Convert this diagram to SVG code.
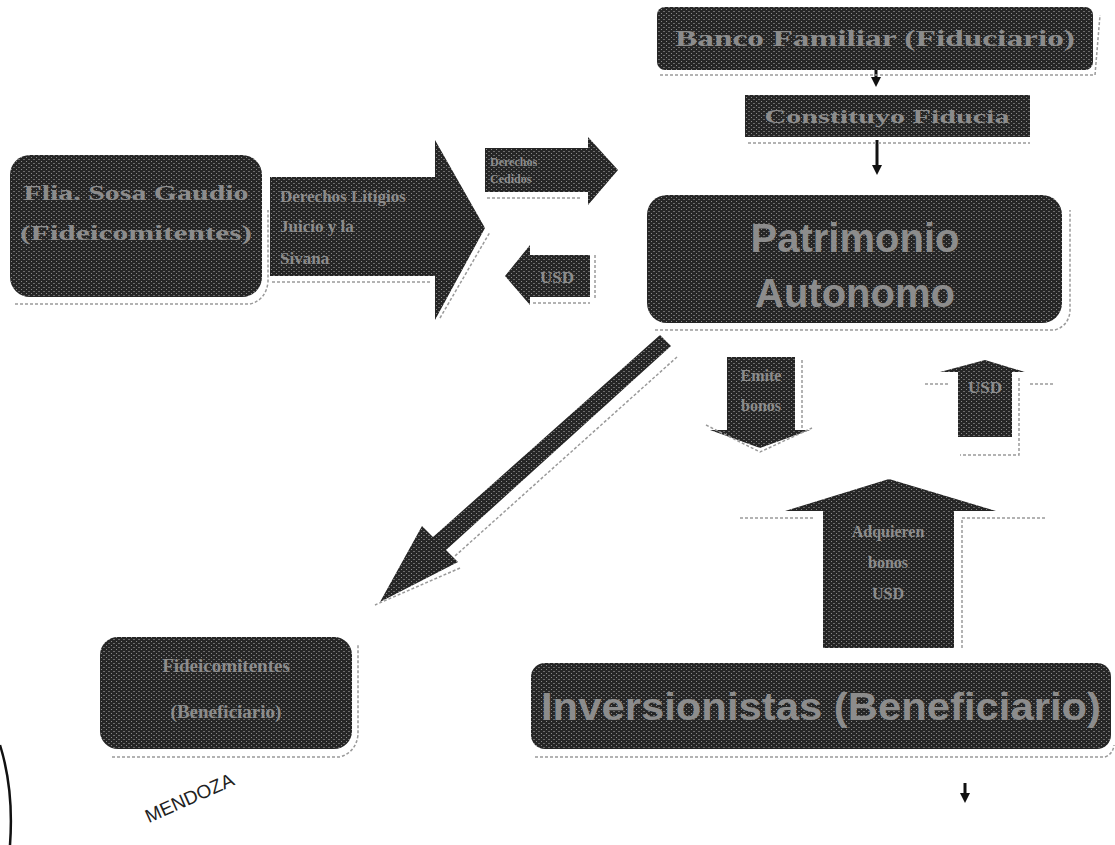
<svg xmlns="http://www.w3.org/2000/svg" width="1115" height="845" viewBox="0 0 1115 845">
<defs>
<pattern id="tex" width="5" height="4" patternUnits="userSpaceOnUse">
<rect width="5" height="4" fill="#262626"/>
<rect x="1" y="1" width="1" height="1" fill="#8a8a8a"/>
<rect x="3" y="3" width="2" height="1" fill="#6a6a6a"/>
</pattern>
<marker id="ah" markerWidth="10" markerHeight="10" refX="5" refY="5" orient="auto" markerUnits="userSpaceOnUse">
<path d="M0,0 L10,5 L0,10 Z" fill="#111"/>
</marker>
</defs>
<style>
.n{fill:url(#tex);}
.sh{fill:none;stroke:#9a9a9a;stroke-width:1.5;stroke-dasharray:3 2;}
.ts{font-family:"Liberation Serif",serif;font-weight:bold;fill:#8c8c8c;}
.tn{font-family:"Liberation Sans",Arial,sans-serif;font-weight:bold;fill:#8c8c8c;}
.ln{stroke:#111;stroke-width:3;fill:none;}
</style>
<rect width="1115" height="845" fill="#ffffff"/>

<g id="connectors">
<line class="ln" x1="876" y1="70" x2="876" y2="82" marker-end="url(#ah)"/>
<line class="ln" x1="877" y1="140" x2="877" y2="170" marker-end="url(#ah)"/>
<line class="ln" x1="965" y1="783" x2="965" y2="798" marker-end="url(#ah)"/>
<g id="arrow-derechos">
<path class="n" d="M270,177 L435,177 L435,140 L485,228 L435,320 L435,276 L270,276 Z"/>
<path class="sh" d="M272,282 L432,282 M440,318 L490,232"/>
<text class="ts" font-size="17" x="280" y="202">Derechos Litigios</text>
<text class="ts" font-size="17" x="280" y="232">Juicio y la</text>
<text class="ts" font-size="17" x="280" y="264">Sivana</text>
</g>
<g id="arrow-cedidos">
<path class="n" d="M485,148 L588,148 L588,137 L618,170 L588,205 L588,192 L485,192 Z"/>
<path class="sh" d="M487,198 L582,198"/>
<text class="ts" font-size="12" x="490" y="166">Derechos</text>
<text class="ts" font-size="12" x="490" y="183">Cedidos</text>
</g>
<g id="arrow-usd-left">
<path class="n" d="M590,255 L530,255 L530,245 L505,276 L530,305 L530,297 L590,297 Z"/>
<path class="sh" d="M533,303 L590,303 M595,255 L595,300"/>
<text class="ts" font-size="17" x="540" y="283">USD</text>
</g>
<g id="arrow-diagonal">
<path class="n" d="M671,346 L660,335 L433,537 L422,526 L380,602 L458,562 L446,550 Z"/>
<path class="sh" d="M677,357 L455,556 M460,568 L375,605"/>
</g>
<g id="arrow-emite">
<path class="n" d="M727,357 L795,357 L795,430 L810,430 L760,448 L710,430 L727,430 Z"/>
<path class="sh" d="M802,360 L802,428 M706,425 L760,452 L812,428"/>
<text class="ts" font-size="16" x="761" y="381" text-anchor="middle">Emite</text>
<text class="ts" font-size="16" x="761" y="411" text-anchor="middle">bonos</text>
</g>
<g id="arrow-usd-up">
<path class="n" d="M958,437 L1012,437 L1012,372 L1025,372 L985,360 L940,372 L958,372 Z"/>
<path class="sh" d="M1019,378 L1019,455 L960,455 M925,384 L950,384 M1030,384 L1055,384"/>
<text class="ts" font-size="17" x="985" y="393" text-anchor="middle">USD</text>
</g>
<g id="arrow-adquieren">
<path class="n" d="M823,648 L954,648 L954,511 L996,511 L889,479 L785,511 L823,511 Z"/>
<path class="sh" d="M962,520 L962,650 M740,518 L815,518 M962,518 L1045,518"/>
<text class="ts" font-size="16" x="888" y="537" text-anchor="middle">Adquieren</text>
<text class="ts" font-size="16" x="888" y="568" text-anchor="middle">bonos</text>
<text class="ts" font-size="16" x="888" y="599" text-anchor="middle">USD</text>
</g>
</g>

<g id="banco">
<rect class="n" x="657" y="7" width="436" height="63" rx="8"/>
<path class="sh" d="M660,75 L1095,75 L1100,15"/>
<text class="ts" font-size="23" x="875" y="46" text-anchor="middle" textLength="400" lengthAdjust="spacingAndGlyphs">Banco Familiar (Fiduciario)</text>
</g>
<g id="constituyo">
<rect class="n" x="745" y="95" width="285" height="42"/>
<path class="sh" d="M748,143 L1030,143"/>
<text class="ts" font-size="18" x="887" y="123" text-anchor="middle" textLength="245" lengthAdjust="spacingAndGlyphs">Constituyo Fiducia</text>
</g>
<g id="patrimonio">
<rect class="n" x="647" y="195" width="415" height="128" rx="20"/>
<path class="sh" d="M655,330 L1055,330 Q1068,326 1070,312 L1070,210"/>
<text class="tn" font-size="40" x="855" y="252" text-anchor="middle">Patrimonio</text>
<text class="tn" font-size="40" x="855" y="307" text-anchor="middle">Autonomo</text>
</g>
<g id="flia">
<rect class="n" x="10" y="155" width="252" height="142" rx="20"/>
<path class="sh" d="M15,304 L250,304 Q266,300 268,282 L268,210"/>
<text class="ts" font-size="22" x="136" y="200" text-anchor="middle" textLength="225" lengthAdjust="spacingAndGlyphs">Flia. Sosa Gaudio</text>
<text class="ts" font-size="22" x="136" y="240" text-anchor="middle" textLength="232" lengthAdjust="spacingAndGlyphs">(Fideicomitentes)</text>
</g>
<g id="fideicomitentes">
<rect class="n" x="100" y="637" width="252" height="112" rx="18"/>
<path class="sh" d="M112,757 L340,757 Q356,752 358,735 L358,645"/>
<text class="ts" font-size="19" x="226" y="672" text-anchor="middle">Fideicomitentes</text>
<text class="ts" font-size="19" x="226" y="718" text-anchor="middle">(Beneficiario)</text>
</g>
<g id="inversionistas">
<rect class="n" x="531" y="663" width="580" height="86" rx="14"/>
<path class="sh" d="M535,757 L1105,757 Q1113,754 1114,745"/>
<text class="tn" font-size="38" x="821" y="720" text-anchor="middle" textLength="560" lengthAdjust="spacingAndGlyphs">Inversionistas (Beneficiario)</text>
</g>

<g id="stamp">
<path d="M0,745 Q14,790 10,845" stroke="#111" stroke-width="2.5" fill="none"/>
<text x="140" y="808" font-family="Liberation Sans,sans-serif" font-size="19" fill="#222" transform="rotate(-24 180 795)">MENDOZA</text>
</g>
</svg>
